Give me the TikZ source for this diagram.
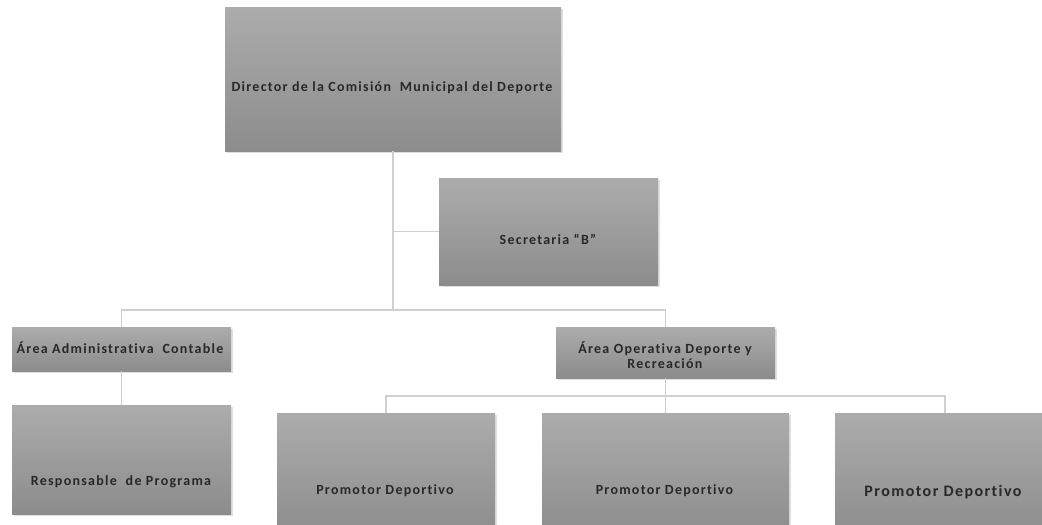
\documentclass[tikz,border=0pt]{standalone}
\usepackage{fontspec}
\setmainfont{Carlito}[LetterSpace=9, Ligatures={NoCommon}]
\usetikzlibrary{shadows}
\definecolor{boxtop}{RGB}{172,172,172}
\definecolor{boxbot}{RGB}{140,140,140}
\definecolor{linec}{RGB}{208,208,208}
\definecolor{txtc}{RGB}{40,40,40}
\tikzset{
  orgbox/.style={rectangle, draw=none, top color=boxtop, bottom color=boxbot,
    drop shadow={opacity=0.25, shadow xshift=1.5pt, shadow yshift=-1.5pt},
    inner sep=0pt},
  lbl/.style={text=txtc, inner sep=0pt, font=\fontsize{14}{15.5}\selectfont\bfseries, align=center},
  conn/.style={draw=linec, line width=1.4pt}
}
\begin{document}
\begin{tikzpicture}[x=1pt, y=-1pt]
\useasboundingbox (0,0) rectangle (1042,525);
\clip (0,0) rectangle (1042,525);
% boxes
\node[orgbox, minimum width=336pt, minimum height=144pt] (dir) at (393,79) {};
\node[orgbox, minimum width=219pt, minimum height=107pt] (sec) at (548.5,231.5) {};
\node[orgbox, minimum width=219pt, minimum height=44pt] (adm) at (121.5,349) {};
\node[orgbox, minimum width=219pt, minimum height=51pt] (ope) at (665.5,352.5) {};
\node[orgbox, minimum width=219pt, minimum height=109pt] (res) at (121.5,459.5) {};
\node[orgbox, minimum width=218pt, minimum height=124pt] (p1) at (386,475) {};
\node[orgbox, minimum width=247pt, minimum height=124pt] (p2) at (665.5,475) {};
\node[orgbox, minimum width=220pt, minimum height=124pt] (p3) at (945,475) {};
% junctions
\coordinate (j1) at (393,310);
\coordinate (j2) at (665.5,396);
% connectors
\draw[conn] (dir.south) -- (j1);
\draw[conn] (dir.south |- sec.west) -- (sec.west);
\draw[conn] (adm.north) |- (j1) -| (ope.north);
\draw[conn] (adm.south) -- (res.north);
\draw[conn] (ope.south) -- (j2);
\draw[conn] (p1.north) |- (j2) -| (p3.north);
\draw[conn] (j2) -- (p2.north);
% labels
\node[lbl] (tdir) at (392,88) {Director de la Comisión\ \ Municipal del Deporte};
\node[lbl] (tsec) at (548,239) {Secretaria “B”};
\node[lbl] (tadm) at (120,348) {Área Administrativa\ \ Contable};
\node[lbl] (tope) at (665,355) {Área Operativa Deporte y\\Recreación};
\node[lbl] (tres) at (121,482) {Responsable\ \ de Programa};
\node[lbl] (tp1) at (385,491) {Promotor Deportivo};
\node[lbl] (tp2) at (664.5,491) {Promotor Deportivo};
\node[lbl, font=\fontsize{16}{18}\selectfont\bfseries] (tp3) at (943,492) {Promotor Deportivo};
\end{tikzpicture}
\end{document}
